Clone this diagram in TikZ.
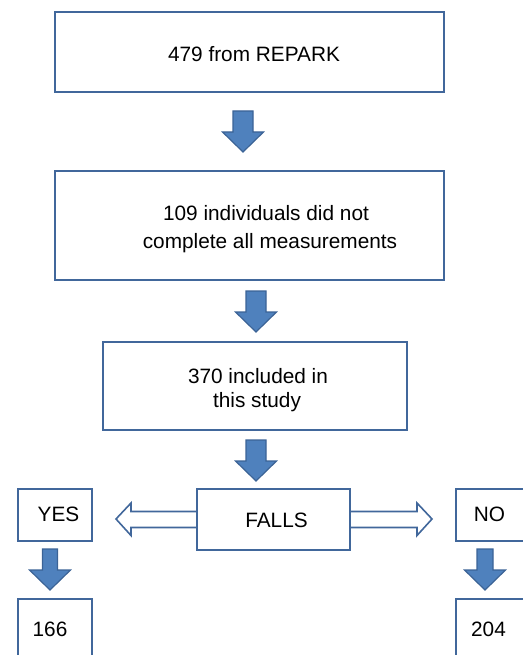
\documentclass[tikz,border=0pt]{standalone}
\usepackage{fontspec}
\setmainfont{Liberation Sans}
\definecolor{edge}{HTML}{41679B}
\definecolor{afill}{HTML}{4F81BD}
\definecolor{aedge}{HTML}{3B6396}
\newcommand\blockdown[6]{% name, x center, y top, y head base, y tip, shaft half width, head half width
\draw[blk] (#2-#6,#3) -- (#2+#6,#3) -- (#2+#6,#4) -- (#2+20.5,#4) -- (#2,#5) -- (#2-20.5,#4) -- (#2-#6,#4) -- cycle;}
\begin{document}
\begin{tikzpicture}[x=1pt,y=-1pt,
  box/.style={draw=edge,line width=1.8pt,fill=white,inner sep=0pt},
  txt/.style={font=\fontsize{20.8}{26}\selectfont,inner sep=0pt,anchor=base},
  blk/.style={fill=afill,draw=aedge,line width=1.2pt,line join=miter},
  hollow/.style={fill=white,draw=edge,line width=1.6pt,line join=miter}]
\useasboundingbox (0,0) rectangle (522,655);

% boxes
\node[box,minimum width=389pt,minimum height=80pt] (b1) at (249.5,52) {};
\node[box,minimum width=389pt,minimum height=109pt] (b2) at (249.5,225.5) {};
\node[box,minimum width=304pt,minimum height=88pt] (b3) at (255,386) {};
\node[box,minimum width=74pt,minimum height=52pt] (yes) at (55,515) {};
\node[box,minimum width=80pt,minimum height=52pt] (no) at (496,515) {};
\node[box,minimum width=74pt,minimum height=71pt] (n166) at (55,634.5) {};
\node[box,minimum width=80pt,minimum height=71pt] (n204) at (496,634.5) {};

% hollow arrows from FALLS
\coordinate (lt) at (116,519);
\coordinate (rt) at (432,519);
\draw[hollow] (200,511.5) -- (131,511.5) -- (131,503) -- (lt) -- (131,535.5) -- (131,527.5) -- (200,527.5);
\draw[hollow] (347,511.5) -- (417,511.5) -- (417,503) -- (rt) -- (417,535.5) -- (417,527.5) -- (347,527.5);
\node[box,minimum width=153pt,minimum height=61pt] (falls) at (273.5,519.5) {};

% block arrows
\blockdown{a1}{243}{111}{132}{152}{10}{20.5}
\blockdown{a2}{256}{291}{312}{332}{10}{20.5}
\blockdown{a3}{256}{440}{461}{481}{10}{20.5}
\blockdown{a4}{50}{549}{570}{590}{7.5}{20}
\blockdown{a5}{485}{549}{570}{590}{8}{20}

% texts
\node[txt] (t1) at (254,62) {479 from REPARK};
\node[txt] (t2a) at (266,220) {109 individuals did not};
\node[txt] (t2b) at (270,248) {complete all measurements};
\node[txt] (t3a) at (258,383) {370 included in};
\node[txt] (t3b) at (257,407) {this study};
\node[txt] (tf) at (276.5,527) {FALLS};
\node[txt] (ty) at (58.5,521) {YES};
\node[txt] (tn) at (489.5,521) {NO};
\node[txt] (t166) at (50,636) {166};
\node[txt] (t204) at (488.5,636) {204};
\end{tikzpicture}
\end{document}
